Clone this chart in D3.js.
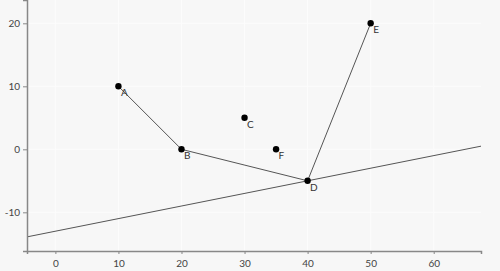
<!DOCTYPE html>
<html>
<head>
<meta charset="utf-8">
<script src="https://cdn.jsdelivr.net/npm/d3@7"></script>
<style>
  body { margin: 0; background: #f7f7f7; }
  svg { display: block; font-family: Lato, "Open Sans", sans-serif; }
</style>
</head>
<body>
<div id="chart"></div>
<script>
// points
const labels = ["A", "B", "C", "D", "E", "F"];
const xs = [10, 20, 30, 40, 50, 35];
const ys = [10, 0, 5, -5, 20, 0];

// polyline through A, B, D, E
const pathLabels = ["A", "B", "D", "E"];

// straight line y = slope * x + intercept
const lineSlope = 0.2;
const lineIntercept = -13;

const xTicks = [0, 10, 20, 30, 40, 50, 60];
const yTicks = [-10, 0, 10, 20];

const points = labels.map((l, i) => ({ label: l, x: xs[i], y: ys[i] }));

const width = 500, height = 271;
const margin = { top: 0, right: 19, bottom: 20, left: 27 };

const svg = d3.select("#chart").append("svg")
    .attr("width", width)
    .attr("height", height);

const x = d3.scaleLinear()
    .domain([-4.5, 67.5])
    .range([margin.left, width - margin.right]);

const y = d3.scaleLinear()
    .domain([-16.14, 23.7])
    .range([height - margin.bottom, margin.top]);

// faint grid
svg.append("g")
    .selectAll("line.gy")
    .data(yTicks)
    .join("line")
    .attr("x1", margin.left).attr("x2", width - margin.right)
    .attr("y1", d => y(d)).attr("y2", d => y(d))
    .attr("stroke", "#fcfcfc").attr("stroke-width", 1);
svg.append("g")
    .selectAll("line.gx")
    .data(xTicks)
    .join("line")
    .attr("y1", margin.top).attr("y2", height - margin.bottom)
    .attr("x1", d => x(d)).attr("x2", d => x(d))
    .attr("stroke", "#fcfcfc").attr("stroke-width", 1);

// long straight line across the plot
const [x0, x1] = x.domain();
svg.append("line")
    .attr("x1", x(x0)).attr("y1", y(lineSlope * x0 + lineIntercept))
    .attr("x2", x(x1)).attr("y2", y(lineSlope * x1 + lineIntercept))
    .attr("stroke", "#555").attr("stroke-width", 1);

// polyline
const pathPts = pathLabels.map(l => points.find(p => p.label === l));
svg.append("path")
    .datum(pathPts)
    .attr("fill", "none")
    .attr("stroke", "#555")
    .attr("stroke-width", 1)
    .attr("d", d3.line().x(d => x(d.x)).y(d => y(d.y)));

// axes (plain hyphen for negatives, like the original)
const fmt = d => String(d);
const xAxis = svg.append("g")
    .attr("transform", `translate(0,${height - margin.bottom})`)
    .call(d3.axisBottom(x).tickValues(xTicks).tickFormat(fmt).tickSizeOuter(0).tickSize(3));
const yAxis = svg.append("g")
    .attr("transform", `translate(${margin.left},0)`)
    .call(d3.axisLeft(y).tickValues(yTicks).tickFormat(fmt).tickSizeOuter(0).tickSize(4));

[xAxis, yAxis].forEach(g => {
    g.select(".domain").attr("stroke", "#888").attr("stroke-width", 1.5);
    g.selectAll(".tick line").attr("stroke", "#888");
    g.selectAll(".tick text").attr("fill", "#444").style("font-size", "10px")
        .style("font-family", "Lato, sans-serif");
});
xAxis.selectAll(".tick text").attr("dy", "0.95em");

// points
svg.append("g")
    .selectAll("circle")
    .data(points)
    .join("circle")
    .attr("cx", d => x(d.x))
    .attr("cy", d => y(d.y))
    .attr("r", 3.2)
    .attr("fill", "#000");

// labels
svg.append("g")
    .selectAll("text")
    .data(points)
    .join("text")
    .attr("x", d => x(d.x) + 2.5)
    .attr("y", d => y(d.y) + 10)
    .attr("fill", "#333")
    .style("font-size", "10px")
    .text(d => d.label);
</script>
</body>
</html>
